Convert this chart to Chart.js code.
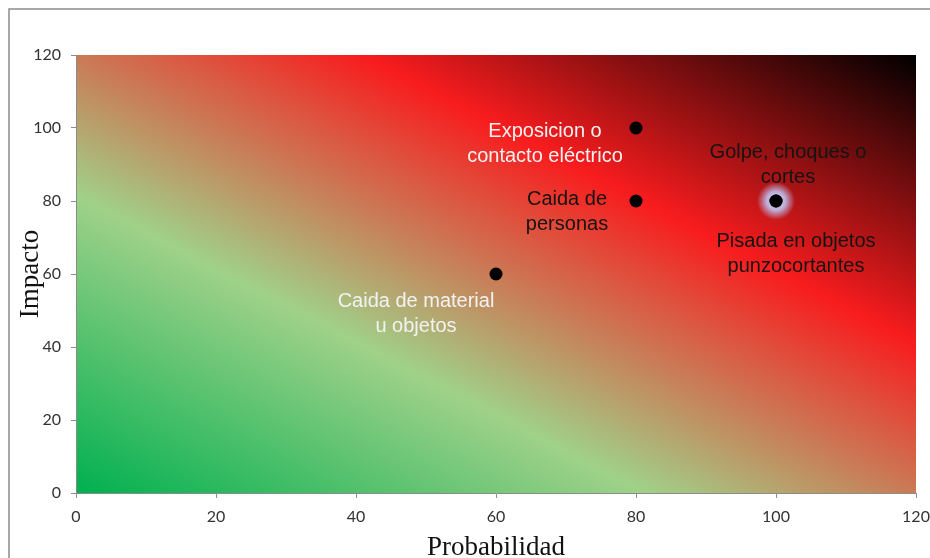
<!DOCTYPE html>
<html>
<head>
<meta charset="utf-8">
<script src="https://cdn.jsdelivr.net/npm/chart.js@4.4.1/dist/chart.umd.min.js"></script>
<style>
  html, body { margin: 0; padding: 0; background: #fff; overflow: hidden; }
  #wrap { width: 930px; height: 558px; }
</style>
</head>
<body>
<div id="wrap"><canvas id="riskChart" width="930" height="558"></canvas></div>
<script>
// Riesgos (probabilidad x impacto)
const riesgos = [
    'Caida de material u objetos',
    'Exposicion o contacto eléctrico',
    'Caida de personas',
    'Golpe, choques o cortes',
    'Pisada en objetos punzocortantes'
];
const probabilidad = [60, 80, 80, 100, 100];
const impacto = [60, 100, 80, 80, 80];

// label text split in lines as in the original
const labelLines = [
    ['Caida de material', 'u objetos'],
    ['Exposicion o', 'contacto eléctrico'],
    ['Caida de', 'personas'],
    ['Golpe, choques o', 'cortes'],
    ['Pisada en objetos', 'punzocortantes']
];

// axis ticks
const axisMin = 0;
const axisMax = 120;
const axisStep = 20;

// label placement relative to its point (px) and colour
const labelOffsets = [
    { dx: -80, dy: 27 },
    { dx: -91, dy: 3 },
    { dx: -69, dy: -2 },
    { dx: 12, dy: -49 },
    { dx: 20, dy: 40 }
];
const labelColors = ['#f2f2f2', '#f2f2f2', '#141414', '#141414', '#141414'];

// Plot area gradient + outer frame
const backdrop = {
    id: 'backdrop',
    beforeDraw(chart) {
        const { ctx, chartArea: a } = chart;
        ctx.save();
        ctx.strokeStyle = '#8c8c8c';
        ctx.lineWidth = 1.5;
        ctx.strokeRect(9, 9, 1200, 1200);

        const W = a.right - a.left;
        const H = a.bottom - a.top;
        // diagonal gradient stretched with the box (corner to corner)
        const k = 2 * W * H / (W * W + H * H);
        const g = ctx.createLinearGradient(a.left, a.bottom, a.left + H * k, a.bottom - W * k);
        g.addColorStop(0, '#00b050');
        g.addColorStop(0.34, '#a0d189');
        g.addColorStop(0.67, '#f81c1e');
        g.addColorStop(1, '#000000');
        ctx.fillStyle = g;
        ctx.fillRect(a.left, a.top, W, H);
        ctx.restore();
    }
};

// soft glow behind the shared point at (100, 80)
const glow = {
    id: 'glow',
    beforeDatasetsDraw(chart) {
        const pt = chart.getDatasetMeta(0).data[3];
        if (!pt) return;
        const { ctx } = chart;
        const r = 19;
        const g = ctx.createRadialGradient(pt.x, pt.y, 0, pt.x, pt.y, r);
        g.addColorStop(0, 'rgba(215,215,245,1)');
        g.addColorStop(0.5, 'rgba(190,190,235,0.9)');
        g.addColorStop(1, 'rgba(180,180,235,0)');
        ctx.save();
        ctx.fillStyle = g;
        ctx.beginPath();
        ctx.arc(pt.x, pt.y, r, 0, Math.PI * 2);
        ctx.fill();
        ctx.restore();
    }
};

// text labels next to the points
const pointLabels = {
    id: 'pointLabels',
    afterDatasetsDraw(chart) {
        const { ctx } = chart;
        const meta = chart.getDatasetMeta(0);
        ctx.save();
        ctx.font = '20px "Liberation Sans", Arial, sans-serif';
        ctx.textAlign = 'center';
        ctx.textBaseline = 'middle';
        labelLines.forEach((lines, i) => {
            const pt = meta.data[i];
            const off = labelOffsets[i];
            ctx.fillStyle = labelColors[i];
            lines.forEach((line, j) => {
                ctx.fillText(line, pt.x + off.dx, pt.y + off.dy + j * 25);
            });
        });
        ctx.restore();
    }
};

const tickFont = { family: 'Lato, "Open Sans", sans-serif', size: 16 };
const titleFont = { family: '"Liberation Serif", "Times New Roman", serif', size: 27, lineHeight: 1 };

const ctx = document.getElementById('riskChart').getContext('2d');
const chart = new Chart(ctx, {
    type: 'scatter',
    data: {
        datasets: [{
            label: 'Riesgos',
            data: riesgos.map((r, i) => ({ x: probabilidad[i], y: impacto[i] })),
            backgroundColor: '#000000',
            borderColor: '#000000',
            borderWidth: 0,
            pointRadius: 6.5,
            pointHoverRadius: 6.5
        }]
    },
    options: {
        responsive: false,
        animation: false,
        layout: { padding: { top: 55, right: 14, left: 0, bottom: 0 } },
        plugins: {
            legend: { display: false },
            tooltip: { enabled: false }
        },
        scales: {
            x: {
                type: 'linear',
                min: axisMin,
                max: axisMax,
                ticks: { stepSize: axisStep, color: '#333', font: tickFont, padding: 9 },
                grid: { drawOnChartArea: false, drawTicks: true, tickLength: 5, color: '#8c8c8c' },
                border: { color: '#8c8c8c', width: 1 },
                title: { display: true, text: 'Probabilidad', color: '#111', font: titleFont, padding: { top: 0, bottom: -3 } },
                afterFit: s => { s.height = 65; s.paddingLeft = 0; s.paddingRight = 0; }
            },
            y: {
                type: 'linear',
                min: axisMin,
                max: axisMax,
                ticks: { stepSize: axisStep, color: '#333', font: tickFont, padding: 10 },
                grid: { drawOnChartArea: false, drawTicks: true, tickLength: 5, color: '#8c8c8c' },
                border: { color: '#8c8c8c', width: 1 },
                title: { display: true, text: 'Impacto', color: '#111', font: titleFont, padding: { top: 17, bottom: 0 } },
                afterFit: s => { s.width = 76; s.paddingTop = 0; s.paddingBottom = 0; }
            }
        }
    },
    plugins: [backdrop, glow, pointLabels]
});
</script>
</body>
</html>
